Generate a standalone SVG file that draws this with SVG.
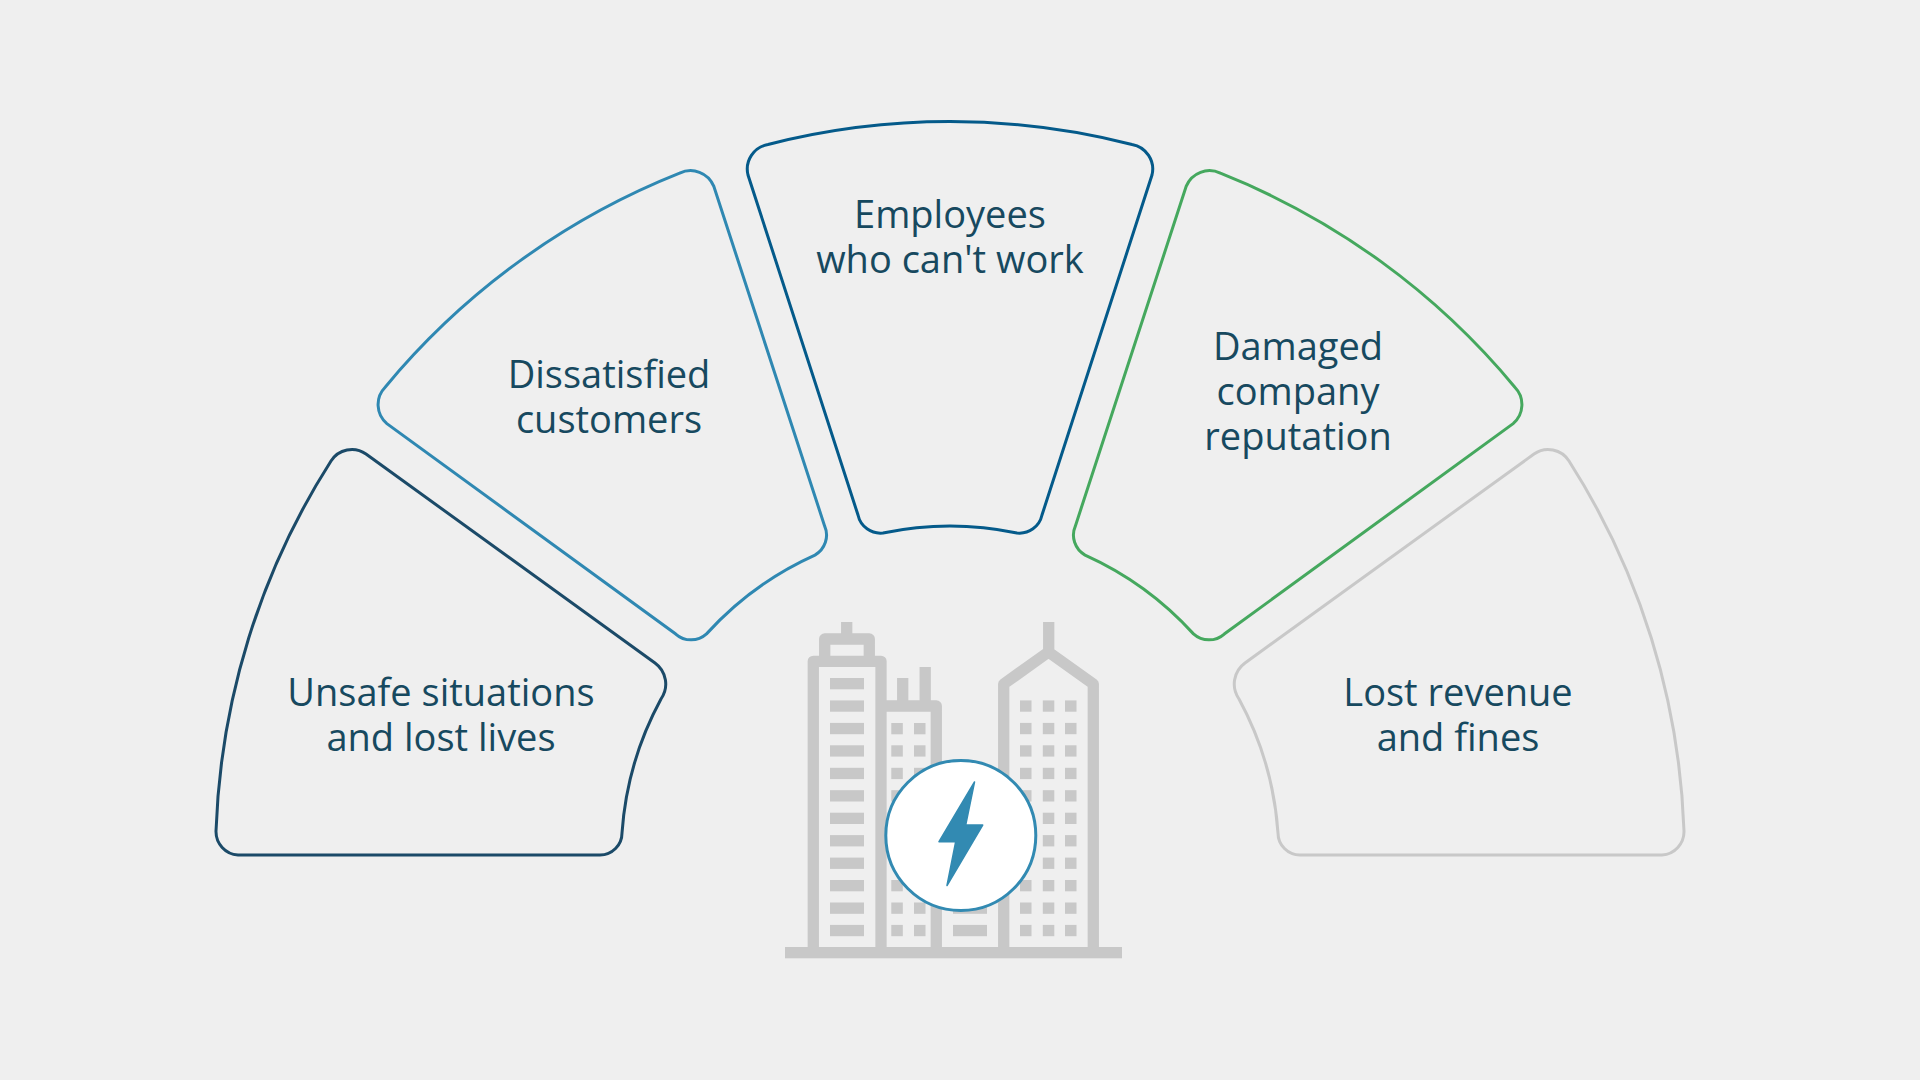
<svg xmlns="http://www.w3.org/2000/svg" xmlns:xlink="http://www.w3.org/1999/xlink" width="1920" height="1080" viewBox="0 0 1920 1080">
<style>
.seg{fill:none;stroke-width:3}
.lbl{font-family:"Open Sans","Noto Sans",sans-serif;font-size:38px;fill:#17495f;text-anchor:middle}
.g{fill:#c8c8c8}
.gl{fill:none;stroke:#c8c8c8;stroke-width:11.3;stroke-linejoin:round}
</style>
<defs>
<path id="mid" d="M768 144.500A734 734 0 0 1 1132 144.500A25 25 0 0 1 1152 175L1042 515A23 23 0 0 1 1017 533A328 328 0 0 0 883 533A23 23 0 0 1 858 515L748 175A25 25 0 0 1 768 144.500Z"/>
<path id="side" d="M238 855L600 855A22 22 0 0 0 622 833A328 328 0 0 1 661 699A26 26 0 0 0 655 663L366 454A24.500 24.500 0 0 0 331 461A734 734 0 0 0 216 831A23.500 23.500 0 0 0 238 855Z"/>
<rect id="w" width="11.5" height="11.3"/>
<rect id="b" width="34" height="11.3"/>
</defs>
<rect width="1920" height="1080" fill="#efefef"/>
<g id="node-unsafe"><use xlink:href="#side" class="seg" stroke="#1b4a68"/><text class="lbl" x="441" y="706">Unsafe situations</text><text class="lbl" x="441" y="751">and lost lives</text></g>
<g id="node-customers"><use xlink:href="#mid" class="seg" stroke="#2f88b2" transform="rotate(-36 950 855)"/><text class="lbl" x="609" y="388">Dissatisfied</text><text class="lbl" x="609" y="433">customers</text></g>
<g id="node-employees"><use xlink:href="#mid" class="seg" stroke="#045a8a"/><text class="lbl" x="950" y="228">Employees</text><text class="lbl" x="950" y="273">who can't work</text></g>
<g id="node-reputation"><use xlink:href="#mid" class="seg" stroke="#45a85e" transform="rotate(36 950 855)"/><text class="lbl" x="1298" y="360">Damaged</text><text class="lbl" x="1298" y="405">company</text><text class="lbl" x="1298" y="450">reputation</text></g>
<g id="node-revenue"><use xlink:href="#side" class="seg" stroke="#c8c8c8" transform="matrix(-1 0 0 1 1900 0)"/><text class="lbl" x="1458" y="706">Lost revenue</text><text class="lbl" x="1458" y="751">and fines</text></g>
<g id="node-city">
<rect class="g" x="785" y="947" width="337" height="11.3"/>
<path class="gl" d="M813.3 950V661.3H881V950M824.7 661V639H869.3V661M846.7 622V639"/>
<path class="gl" d="M881 706H936.3V950M902.7 678V706M925.2 667V706"/>
<path class="gl" d="M1003.7 950V684L1048.500 652L1093.3 684V950M1048.7 622V652"/>
<g class="g">
<use xlink:href="#b" x="830" y="678"/><use xlink:href="#b" x="830" y="700.4"/><use xlink:href="#b" x="830" y="722.9"/><use xlink:href="#b" x="830" y="745.3"/><use xlink:href="#b" x="830" y="767.8"/><use xlink:href="#b" x="830" y="790.2"/><use xlink:href="#b" x="830" y="812.7"/><use xlink:href="#b" x="830" y="835.1"/><use xlink:href="#b" x="830" y="857.6"/><use xlink:href="#b" x="830" y="880"/><use xlink:href="#b" x="830" y="902.5"/><use xlink:href="#b" x="830" y="924.9"/>
<use xlink:href="#b" x="953" y="902.5"/><use xlink:href="#b" x="953" y="924.9"/>
<use xlink:href="#w" x="891.3" y="723"/><use xlink:href="#w" x="914" y="723"/><use xlink:href="#w" x="891.3" y="745.3"/><use xlink:href="#w" x="914" y="745.3"/><use xlink:href="#w" x="891.3" y="767.8"/><use xlink:href="#w" x="914" y="767.8"/><use xlink:href="#w" x="891.3" y="790.2"/><use xlink:href="#w" x="891.3" y="880"/><use xlink:href="#w" x="891.3" y="902.5"/><use xlink:href="#w" x="914" y="902.5"/><use xlink:href="#w" x="891.3" y="924.9"/><use xlink:href="#w" x="914" y="924.9"/>
<use xlink:href="#w" x="1020" y="700.4"/><use xlink:href="#w" x="1042.8" y="700.4"/><use xlink:href="#w" x="1065" y="700.4"/>
<use xlink:href="#w" x="1020" y="722.9"/><use xlink:href="#w" x="1042.8" y="722.9"/><use xlink:href="#w" x="1065" y="722.9"/>
<use xlink:href="#w" x="1020" y="745.3"/><use xlink:href="#w" x="1042.8" y="745.3"/><use xlink:href="#w" x="1065" y="745.3"/>
<use xlink:href="#w" x="1020" y="767.8"/><use xlink:href="#w" x="1042.8" y="767.8"/><use xlink:href="#w" x="1065" y="767.8"/>
<use xlink:href="#w" x="1020" y="790.2"/><use xlink:href="#w" x="1042.8" y="790.2"/><use xlink:href="#w" x="1065" y="790.2"/>
<use xlink:href="#w" x="1042.8" y="812.7"/><use xlink:href="#w" x="1065" y="812.7"/>
<use xlink:href="#w" x="1042.8" y="835.1"/><use xlink:href="#w" x="1065" y="835.1"/>
<use xlink:href="#w" x="1042.8" y="857.6"/><use xlink:href="#w" x="1065" y="857.6"/>
<use xlink:href="#w" x="1020" y="880"/><use xlink:href="#w" x="1042.8" y="880"/><use xlink:href="#w" x="1065" y="880"/>
<use xlink:href="#w" x="1020" y="902.5"/><use xlink:href="#w" x="1042.8" y="902.5"/><use xlink:href="#w" x="1065" y="902.5"/>
<use xlink:href="#w" x="1020" y="924.9"/><use xlink:href="#w" x="1042.8" y="924.9"/><use xlink:href="#w" x="1065" y="924.9"/>
</g>
<circle cx="960.8" cy="835.500" r="75" fill="#fff" stroke="#328ab2" stroke-width="3"/>
<path d="M974.500 782L965.7 825H982.7L947 885.500L955.7 841.7H939Z" fill="#328ab2" stroke="#328ab2" stroke-width="1.500" stroke-linejoin="round"/>
</g>
<g id="connectors"/>
</svg>
